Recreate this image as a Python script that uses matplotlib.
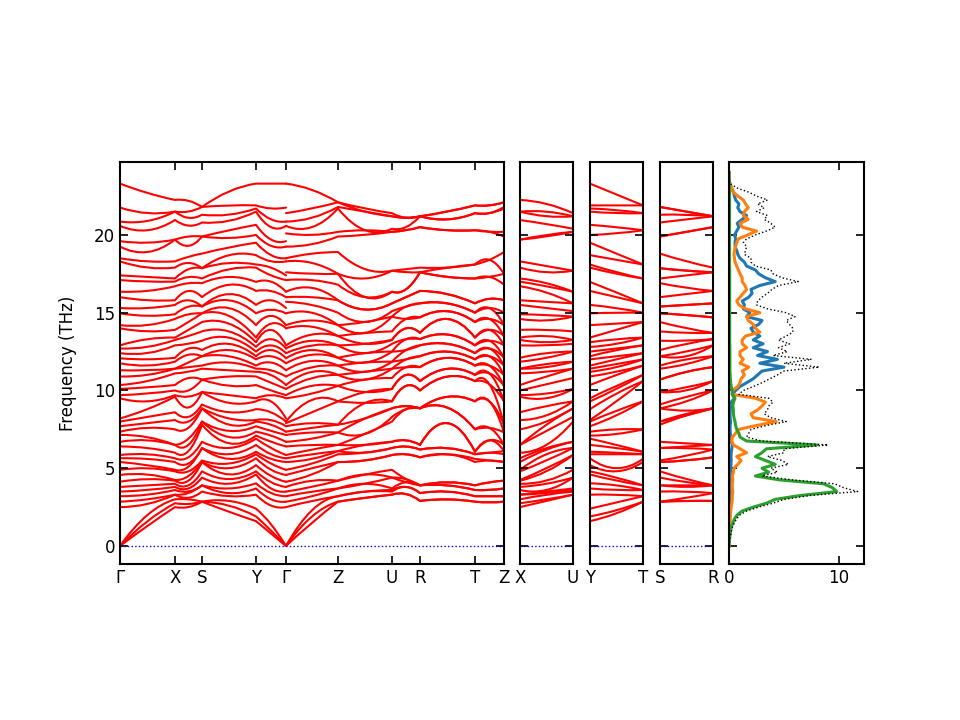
import numpy as np
import matplotlib
matplotlib.use("Agg")
import matplotlib.pyplot as plt
from matplotlib.path import Path
from matplotlib.patches import PathPatch

# ---------------- data ----------------
main_labels = ["Γ", "X", "S", "Y", "Γ", "Z", "U", "R", "T", "Z"]
main_nodes = [0, 55, 82, 136, 166, 218, 272, 300, 355, 384]   # path distance of each point
side_labels = [("X", "U"), ("Y", "T"), ("S", "R")]
side_len = 53

# band frequencies (THz) at sampled k-points (ends and middle of every segment)
G_A = [0, 0, 0, 2.5, 2.85, 3.2, 3.5, 3.8, 4.13, 4.57, 4.9, 5.4, 5.64, 5.85, 6.4, 6.7, 7.14, 7.35, 7.7, 8.0,
       8.2, 9.5, 9.7, 10.1, 10.35, 10.9, 11.3, 11.75, 12.07, 12.4, 12.7, 12.9, 14.0, 14.2, 14.96, 15.3,
       16.0, 16.35, 17.1, 17.4, 18.3, 18.5, 19.25, 19.6, 20.58, 20.86, 21.76, 23.3]
GX_mid = [1.3, 1.6, 2.0, 2.7, 3.0, 3.3, 3.6, 3.9, 4.3, 4.6, 5.0, 5.2, 5.6, 5.9, 6.3, 6.8, 7.0, 7.6, 7.9, 8.3,
          8.8, 9.3, 9.8, 10.2, 10.6, 11.0, 11.3, 11.6, 12.0, 12.4, 12.8, 13.3, 13.8, 14.2, 14.8, 15.3,
          15.8, 16.4, 17.0, 17.3, 17.9, 18.3, 18.9, 19.5, 20.3, 20.9, 21.4, 22.7]
X_pt = [2.5, 2.75, 3.0, 3.3, 3.3, 3.6, 3.8, 4.0, 4.2, 4.24, 4.8, 4.9, 5.4, 5.64, 6.0, 6.5, 6.5, 7.5, 8.1,
        8.6, 9.6, 9.7, 10.0, 10.35, 11.1, 11.4, 11.4, 11.85, 12.1, 12.9, 13.25, 13.4, 13.9, 14.6, 14.9,
        15.5, 15.8, 16.7, 17.0, 17.2, 17.9, 18.3, 19.7, 19.7, 20.96, 21.5, 21.5, 22.25]
XS_mid = [2.5, 2.7, 3.0, 3.1, 3.4, 3.5, 3.7, 3.9, 4.2, 4.5, 4.8, 5.1, 5.3, 5.7, 6.1, 6.5, 6.9, 7.6, 8.0, 8.3,
          8.9, 9.6, 10.0, 10.8, 11.2, 11.5, 11.8, 12.3, 12.7, 13.0, 13.5, 13.9, 14.4, 14.9, 15.4, 15.8,
          16.4, 16.9, 17.3, 17.8, 18.2, 18.6, 19.3, 19.9, 20.6, 21.1, 21.5, 22.2]
S_pt = [2.85, 2.85, 2.85, 3.5, 3.9, 3.9, 4.4, 4.8, 5.4, 5.4, 5.5, 6.3, 6.3, 6.7, 7.8, 8.0, 8.0, 8.85,
        8.85, 9.1, 9.9, 9.9, 10.7, 10.7, 11.4, 11.6, 12.2, 12.2, 12.6, 13.2, 13.8, 14.4, 14.96, 14.96,
        15.4, 15.4, 16.0, 16.9, 17.2, 17.86, 17.86, 18.8, 19.9, 19.9, 20.8, 21.3, 21.8, 21.8]
SY_mid = [2.2, 2.6, 2.9, 3.2, 3.4, 3.7, 4.0, 4.3, 4.6, 5.0, 5.3, 5.6, 5.9, 6.3, 6.6, 7.0, 7.4, 7.8, 8.2, 8.6,
          9.2, 9.7, 10.3, 10.9, 11.3, 11.8, 12.2, 12.6, 13.0, 13.4, 13.8, 14.3, 14.8, 15.3, 15.8, 16.2,
          16.8, 17.3, 17.8, 18.2, 18.7, 19.2, 19.8, 20.3, 20.9, 21.3, 21.9, 22.8]
Y_pt = [1.6, 1.9, 2.4, 3.3, 3.7, 4.03, 4.6, 4.8, 5.2, 5.64, 5.9, 6.06, 6.5, 6.9, 7.1, 7.35, 7.7, 8.0, 8.1,
        8.8, 9.3, 9.5, 10.35, 10.9, 11.2, 11.4, 11.6, 12.0, 12.2, 12.5, 12.8, 13.1, 13.4, 14.2, 14.96,
        15.5, 16.4, 16.98, 17.9, 18.1, 18.7, 19.5, 20.0, 20.65, 21.5, 21.7, 21.9, 23.3]
YG_mid = [0.8, 1.0, 1.4, 2.6, 3.0, 3.4, 3.7, 4.1, 4.5, 4.9, 5.3, 5.6, 5.9, 6.3, 6.7, 7.1, 7.4, 7.8, 8.1, 8.6,
          9.3, 9.7, 10.0, 10.5, 11.0, 11.3, 11.8, 12.2, 12.6, 12.9, 13.3, 13.9, 14.3, 14.8, 15.2, 15.8,
          16.4, 17.0, 17.4, 17.9, 18.3, 18.7, 19.3, 19.7, 20.5, 21.0, 21.7, 23.3]
G_B = [0, 0, 0, 2.5, 2.85, 3.2, 3.5, 3.8, 4.13, 4.57, 4.9, 5.4, 5.64, 5.85, 6.4, 6.7, 7.14, 7.35, 7.7, 8.0,
       8.2, 9.5, 9.7, 10.1, 10.35, 10.9, 11.3, 11.75, 12.07, 12.4, 12.7, 12.9, 14.0, 14.2, 14.96, 15.3,
       16.0, 16.35, 17.1, 17.4, 18.3, 18.5, 19.25, 19.6, 20.58, 20.86, 21.76, 23.3]
G_C = [0, 0, 0, 2.5, 2.85, 3.2, 3.5, 3.8, 4.13, 4.57, 4.9, 5.4, 5.64, 5.85, 6.4, 6.7, 7.14, 7.35, 7.7, 7.9,
       8.0, 9.5, 9.7, 10.1, 10.35, 10.9, 11.3, 11.75, 12.07, 12.4, 12.7, 12.9, 14.0, 14.2, 14.96, 15.7,
       16.0, 16.35, 17.1, 17.6, 18.3, 18.5, 19.25, 20.1, 20.58, 20.86, 21.4, 23.3]
GZ_mid = [1.5, 1.9, 2.3, 2.9, 3.2, 3.5, 3.8, 4.2, 4.6, 5.0, 5.3, 5.6, 5.9, 6.2, 6.5, 6.9, 7.3, 7.6, 7.9, 8.6,
          9.4, 9.8, 10.3, 10.8, 11.2, 11.5, 11.9, 12.3, 12.6, 12.9, 13.2, 13.6, 14.1, 14.5, 15.0, 15.5,
          16.0, 16.6, 17.1, 17.5, 18.2, 18.8, 19.4, 20.0, 20.5, 21.1, 21.7, 22.9]
Z_pt = [2.85, 2.85, 3.2, 3.2, 3.7, 3.7, 4.2, 4.2, 5.4, 5.4, 5.9, 6.1, 6.1, 6.5, 6.5, 7.3, 7.3, 7.8, 7.8,
        9.3, 9.3, 10.3, 10.3, 11.0, 11.0, 11.6, 11.6, 12.1, 12.1, 12.9, 12.9, 13.5, 13.5, 14.2, 14.2, 15.0,
        15.8, 15.8, 16.8, 17.5, 17.5, 18.9, 19.9, 20.2, 21.7, 21.8, 22.1, 22.1]
ZU_mid = [3.1, 3.1, 3.5, 3.5, 4.0, 4.0, 4.6, 4.6, 5.5, 5.5, 6.0, 6.0, 6.5, 6.5, 7.2, 7.2, 8.2, 8.2, 9.2,
          9.2, 9.9, 9.9, 10.7, 10.7, 11.2, 11.2, 11.8, 11.8, 12.4, 12.4, 13.0, 13.0, 13.7, 13.7, 14.4, 14.4,
          15.2, 15.2, 16.0, 16.0, 17.2, 17.8, 20.0, 20.3, 20.3, 21.5, 21.5, 21.7]
U_pt = [3.3, 3.3, 3.5, 3.6, 3.7, 4.4, 4.4, 4.9, 5.85, 5.85, 6.3, 6.3, 6.7, 6.7, 8.0, 8.3, 8.85, 8.85, 9.3,
        9.3, 10.1, 10.1, 10.8, 11.4, 11.4, 11.85, 11.85, 12.5, 12.5, 13.0, 13.25, 13.25, 13.8, 14.75,
        14.75, 15.1, 15.6, 15.6, 16.35, 16.35, 17.7, 17.7, 20.2, 20.2, 20.4, 21.2, 21.2, 21.4]
UR_mid = [3.35, 3.35, 3.8, 3.8, 4.1, 4.1, 4.3, 4.3, 5.9, 5.9, 6.4, 6.4, 6.8, 6.8, 8.8, 8.8, 9.0, 9.0,
          10.3, 10.3, 11.0, 11.0, 11.5, 11.5, 12.0, 12.0, 12.6, 12.6, 13.3, 13.3, 14.0, 14.0, 14.6, 14.6,
          15.4, 15.4, 16.0, 16.0, 16.5, 16.5, 17.6, 17.8, 20.3, 20.3, 20.5, 21.1, 21.1, 21.1]
R_pt = [2.9, 2.9, 3.4, 3.4, 3.9, 3.9, 3.9, 3.9, 5.7, 5.7, 6.2, 6.2, 6.5, 6.5, 8.85, 8.85, 8.85, 8.85,
        10.0, 10.0, 10.6, 10.6, 11.5, 11.5, 12.2, 12.2, 12.9, 12.9, 13.3, 13.3, 13.7, 13.7, 14.7, 14.7,
        15.6, 15.6, 16.4, 16.4, 17.6, 17.6, 17.6, 17.9, 20.5, 20.5, 21.2, 21.2, 21.2, 21.2]
RT_mid = [3.0, 3.0, 3.5, 3.5, 3.9, 3.9, 4.1, 4.1, 5.9, 5.9, 6.3, 6.3, 7.9, 7.9, 8.9, 8.9, 9.6, 9.6, 10.9,
          10.9, 11.4, 11.4, 12.1, 12.1, 12.5, 12.5, 13.0, 13.0, 13.6, 13.6, 14.6, 14.6, 15.1, 15.1, 15.6,
          15.6, 16.2, 16.2, 17.3, 17.3, 17.9, 17.9, 20.3, 20.3, 21.0, 21.0, 21.5, 21.5]
T_pt = [2.85, 2.85, 3.2, 3.2, 3.6, 3.6, 3.9, 3.9, 5.4, 5.6, 5.9, 5.9, 6.06, 6.06, 7.5, 7.5, 9.3, 9.3,
        10.6, 10.6, 11.0, 11.0, 11.6, 11.6, 12.0, 12.0, 12.4, 12.4, 12.9, 12.9, 13.4, 13.4, 14.4, 14.4,
        15.0, 15.0, 15.6, 15.6, 17.2, 17.2, 18.1, 18.1, 20.3, 20.3, 21.4, 21.4, 21.9, 21.9]
TZ_mid = [2.8, 2.8, 3.2, 3.2, 3.6, 3.6, 4.1, 4.1, 5.5, 5.5, 6.0, 6.0, 6.8, 6.8, 7.6, 7.6, 9.3, 9.3, 10.4,
          10.4, 11.1, 11.1, 11.6, 11.6, 12.2, 12.2, 12.7, 12.7, 13.2, 13.2, 13.9, 13.9, 14.6, 14.6, 15.3,
          15.3, 15.9, 15.9, 17.3, 17.3, 18.4, 18.4, 20.2, 20.2, 21.4, 21.4, 21.9, 21.9]
XU_mid = [2.9, 3.0, 3.3, 3.4, 3.5, 3.6, 4.0, 4.2, 4.8, 5.0, 5.5, 5.9, 6.2, 6.3, 6.5, 7.4, 7.8, 8.0, 8.4,
          9.0, 9.5, 9.8, 10.4, 10.9, 11.2, 11.5, 11.7, 12.1, 12.4, 12.9, 13.1, 13.5, 13.9, 14.5, 14.85,
          15.3, 15.7, 16.3, 16.7, 16.9, 17.6, 18.0, 19.9, 20.0, 20.7, 21.2, 21.5, 22.0]
YT_mid = [2.1, 2.3, 2.8, 3.3, 3.6, 3.9, 4.2, 4.4, 4.8, 5.0, 5.9, 6.0, 6.3, 6.5, 7.2, 7.5, 8.4, 8.7, 9.3,
          9.8, 10.1, 10.3, 11.0, 11.2, 11.5, 11.7, 12.0, 12.2, 12.6, 12.7, 13.0, 13.3, 13.9, 14.3, 15.0,
          15.3, 16.0, 16.3, 17.5, 17.6, 18.4, 18.8, 20.1, 20.5, 21.4, 21.6, 21.9, 22.6]
SR_mid = [2.9, 2.9, 3.1, 3.5, 3.8, 3.9, 4.1, 4.3, 5.5, 5.5, 5.8, 6.3, 6.4, 6.6, 8.4, 8.4, 8.5, 8.7, 9.3,
          9.6, 10.0, 10.2, 11.2, 11.2, 11.7, 12.0, 12.2, 12.5, 13.0, 13.2, 13.7, 14.0, 14.85, 14.85, 15.5,
          15.5, 16.2, 16.6, 17.4, 17.7, 17.7, 18.3, 20.2, 20.2, 21.0, 21.3, 21.5, 21.5]

# phonon DOS, sampled every 0.25 THz from 0 to 24 THz
dos_step = 0.25
dos_blue = [0, 0.01, 0.02, 0.03, 0.04, 0.05, 0.06, 0.07,
            0.08, 0.1, 0.12, 0.15, 0.18, 0.2, 0.22, 0.2,
            0.2, 0.18, 0.15, 0.15, 0.15, 0.18, 0.2, 0.18,
            0.2, 0.25, 0.3, 0.2, 0.15, 0.12, 0.1, 0.1,
            0.15, 0.1, 0.1, 0.12, 0.15, 0.2, 0.5, 0.3,
            0.6, 1.0, 1.6, 2.2, 2.6, 3.0, 5.0, 2.8,
            4.4, 2.6, 3.5, 2.2, 3.1, 2.2, 2.8, 2.2,
            2.0, 2.7, 3.0, 1.6, 1.9, 1.3, 1.4, 1.2,
            1.8, 2.1, 2.0, 2.8, 4.2, 3.3, 2.7, 2.4,
            1.6, 1.4, 1.0, 0.8, 0.7, 0.55, 0.55, 0.6,
            0.5, 0.7, 0.9, 0.75, 1.2, 1.6, 1.0, 0.8,
            0.9, 0.6, 0.5, 0.4, 0.25, 0.1, 0.02, 0,
            0]
dos_orange = [0, 0, 0.01, 0.02, 0.03, 0.05, 0.07, 0.1,
              0.12, 0.15, 0.2, 0.25, 0.3, 0.3, 0.35, 0.3,
              0.3, 0.35, 0.3, 0.4, 0.45, 0.8, 1.1, 0.7,
              1.6, 1.0, 0.4, 0.25, 0.3, 0.6, 0.9, 2.5,
              4.3, 2.2, 2.0, 2.6, 3.0, 3.3, 2.4, 0.3,
              0.3, 0.8, 1.0, 1.1, 1.4, 1.2, 1.8, 1.0,
              1.3, 1.0, 1.0, 1.6, 1.2, 1.2, 1.5, 2.8,
              2.4, 2.2, 1.75, 1.6, 2.8, 1.5, 0.9, 0.7,
              1.0, 1.3, 1.6, 1.45, 1.2, 1.2, 1.0, 0.85,
              0.7, 0.55, 0.5, 0.45, 0.5, 0.6, 0.7, 0.85,
              1.7, 2.5, 1.2, 1.0, 1.75, 1.3, 1.4, 1.75,
              1.5, 1.3, 0.8, 0.4, 0.25, 0.1, 0.02, 0,
              0]
dos_green = [0, 0.02, 0.06, 0.10, 0.15, 0.22, 0.35, 0.5,
             0.75, 1.2, 2.2, 3.4, 4.2, 6.5, 9.8, 9.4,
             8.6, 4.6, 2.4, 3.6, 3.0, 4.2, 3.3, 2.4,
             3.0, 3.4, 8.0, 1.6, 1.0, 0.9, 0.7, 0.6,
             0.55, 0.45, 0.4, 0.4, 0.35, 0.4, 0.55, 0.3,
             0.3, 0.2, 0.15, 0.12, 0.1, 0.08, 0.08, 0.08,
             0.08, 0.08, 0.08, 0.08, 0.07, 0.06, 0.06, 0.06,
             0.06, 0.06, 0.06, 0.06, 0.06, 0.06, 0.06, 0.06,
             0.06, 0.06, 0.06, 0.06, 0.06, 0.06, 0.06, 0.06,
             0.05, 0.05, 0.05, 0.05, 0.05, 0.05, 0.05, 0.05,
             0.05, 0.05, 0.05, 0.05, 0.05, 0.05, 0.05, 0.05,
             0.05, 0.05, 0.05, 0.05, 0.04, 0.03, 0.01, 0,
             0]
dos_total = [0, 0.03, 0.1, 0.16, 0.23, 0.33, 0.5, 0.7,
             1.0, 1.6, 2.7, 4.0, 5.0, 7.4, 11.7, 10.4,
             9.6, 5.8, 3.0, 4.4, 3.8, 5.4, 4.8, 3.5,
             5.0, 5.0, 9.0, 3.0, 1.6, 1.8, 2.0, 3.4,
             5.2, 3.8, 3.2, 3.5, 3.6, 4.0, 3.6, 0.9,
             1.3, 2.2, 3.0, 3.7, 4.4, 5.0, 8.2, 5.0,
             7.5, 4.0, 5.3, 4.5, 5.5, 4.5, 5.2, 5.8,
             5.8, 5.5, 5.2, 6.0, 5.2, 3.5, 2.5, 2.6,
             3.0, 3.5, 3.9, 4.5, 6.3, 4.8, 4.0, 3.8,
             2.4, 2.0, 2.0, 1.4, 1.5, 1.6, 1.3, 1.6,
             2.4, 3.4, 4.2, 3.8, 3.2, 3.5, 2.5, 3.2,
             2.6, 3.5, 2.5, 1.8, 0.8, 0.2, 0.03, 0,
             0]

# ---------------- figure ----------------
plt.rcParams['font.family'] = ['DejaVu Sans']
fig = plt.figure(figsize=(9.6, 7.2), dpi=100)

YLIM = (-1.157, 24.69)
bottom, height = 1 - 564 / 720, 402 / 720
ax_main = fig.add_axes([120 / 960, bottom, 384 / 960, height])
ax_xu = fig.add_axes([520 / 960, bottom, 53 / 960, height])
ax_yt = fig.add_axes([590 / 960, bottom, 53 / 960, height])
ax_sr = fig.add_axes([660 / 960, bottom, 53 / 960, height])
ax_dos = fig.add_axes([729 / 960, bottom, 135 / 960, height])


def style(ax):
    ax.set_ylim(*YLIM)
    ax.set_yticks([0, 5, 10, 15, 20])
    ax.tick_params(direction='in', top=True, right=True, length=6, width=1.2, labelsize=12)
    for sp in ax.spines.values():
        sp.set_linewidth(1.5)


def draw_band(ax, xs, ys):
    """Smooth quadratic curve per segment that passes through end and middle samples."""
    verts = [(xs[0], ys[0])]
    codes = [Path.MOVETO]
    for j in range(0, len(xs) - 2, 2):
        ya, ym, yb = ys[j], ys[j + 1], ys[j + 2]
        verts += [(xs[j + 1], 2 * ym - 0.5 * (ya + yb)), (xs[j + 2], yb)]
        codes += [Path.CURVE3, Path.CURVE3]
    ax.add_patch(PathPatch(Path(verts, codes), fill=False, edgecolor='red', lw=1.5,
                           capstyle='round', joinstyle='round'))


def mids(nodes):
    out = []
    for a, b in zip(nodes[:-1], nodes[1:]):
        out += [a, (a + b) / 2]
    return out + [nodes[-1]]


left_cols = [G_A, GX_mid, X_pt, XS_mid, S_pt, SY_mid, Y_pt, YG_mid, G_B]
right_cols = [G_C, GZ_mid, Z_pt, ZU_mid, U_pt, UR_mid, R_pt, RT_mid, T_pt, TZ_mid, Z_pt]
left_x = mids(main_nodes[:5])
right_x = mids(main_nodes[4:])

L = np.sort(np.array(left_cols, dtype=float), axis=1)
R = np.sort(np.array(right_cols, dtype=float), axis=1)
nb = L.shape[1]

# main panel
style(ax_main)
for i in range(nb):
    draw_band(ax_main, left_x, L[:, i])
    draw_band(ax_main, right_x, R[:, i])
ax_main.axhline(0, color='blue', ls=':', lw=1)
ax_main.set_xlim(main_nodes[0], main_nodes[-1])
ax_main.set_xticks(main_nodes)
ax_main.set_xticklabels(main_labels)
ax_main.set_ylabel("Frequency (THz)", fontsize=12, labelpad=12)

# side panels
side_cols = [[X_pt, XU_mid, U_pt], [Y_pt, YT_mid, T_pt], [S_pt, SR_mid, R_pt]]
for ax, cols, labs in zip([ax_xu, ax_yt, ax_sr], side_cols, side_labels):
    style(ax)
    M = np.sort(np.array(cols, dtype=float), axis=1)
    xs = [0, side_len / 2, side_len]
    for i in range(M.shape[1]):
        draw_band(ax, xs, M[:, i])
    ax.axhline(0, color='blue', ls=':', lw=1)
    ax.set_xlim(0, side_len)
    ax.set_xticks([0, side_len])
    ax.set_xticklabels(list(labs))
    ax.set_yticklabels([])

# DOS panel
style(ax_dos)
f = np.arange(len(dos_total)) * dos_step
ax_dos.plot(dos_blue, f, color='#1f77b4', lw=2.2)
ax_dos.plot(dos_orange, f, color='#ff7f0e', lw=2.2)
ax_dos.plot(dos_green, f, color='#2ca02c', lw=2.2)
ax_dos.plot(dos_total, f, color='black', ls=':', lw=1)
ax_dos.set_xlim(0, 12.27)
ax_dos.set_xticks([0, 10])
ax_dos.set_yticklabels([])

fig.savefig("out.png", dpi=100)
